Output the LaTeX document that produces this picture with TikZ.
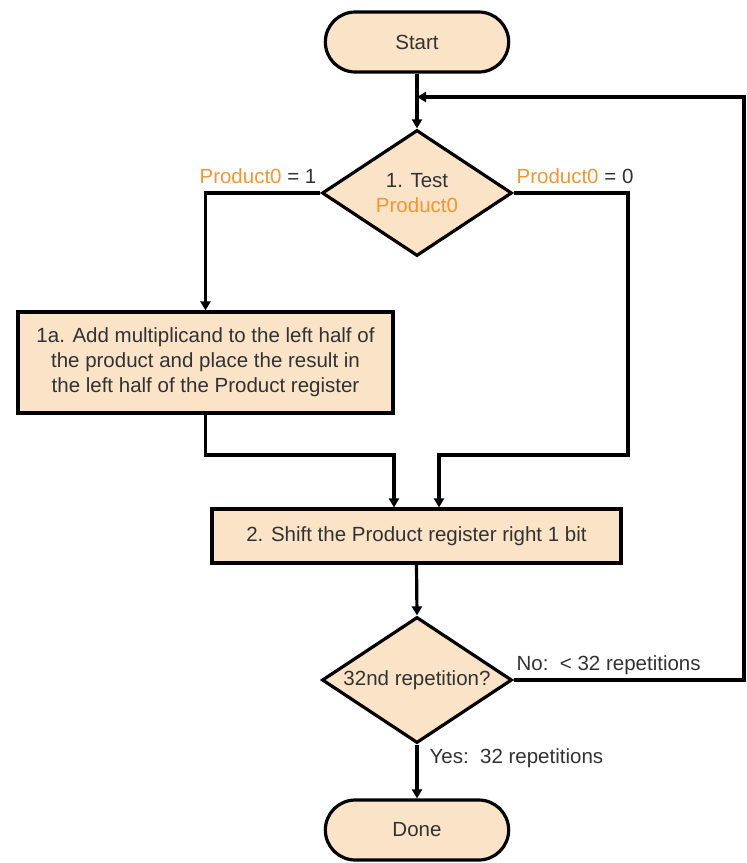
\documentclass[tikz,border=0pt]{standalone}
\usepackage{fontspec}
\setmainfont{Liberation Sans}
\usetikzlibrary{shapes.geometric,shapes.misc,arrows.meta}
\definecolor{boxfill}{RGB}{251,227,200}
\definecolor{txt}{RGB}{50,50,50}
\definecolor{org}{RGB}{240,150,50}
\newcommand{\cl}[1]{\makebox[0pt]{#1}}
\begin{document}
\begin{tikzpicture}[x=1pt,y=-1pt,
  font=\fontsize{20.5}{25}\selectfont, text=txt,
  every path/.style={line width=3.2pt, line join=miter},
  term/.style={rounded rectangle, draw, fill=boxfill, minimum width=190pt, minimum height=60pt},
  procbox/.style={rectangle, draw, fill=boxfill, align=center, inner sep=0pt},
  decision/.style={diamond, draw, fill=boxfill, align=center, inner sep=0pt, aspect=1.5, minimum width=190pt, minimum height=126pt},
  lbl/.style={inner sep=0pt},
  arr/.style={-{Triangle[length=9pt,width=10pt]}}]
\useasboundingbox (0,0) rectangle (747,863);

\node[term] (start) at (417,42) {Start};
\node[decision] (q1) at (417,193) {\cl{1. Test}\\\cl{\textcolor{org}{Product0}}};
\node[procbox, minimum width=375pt, minimum height=101pt] (add) at (205.5,362.5)
  {1a. Add multiplicand to the left half of\\the product and place the result in\\the left half of the Product register};
\node[procbox, minimum width=409pt, minimum height=54pt] (shift) at (416.5,536)
  {2. Shift the Product register right 1 bit};
\node[decision] (q2) at (417,680) {\cl{32nd repetition?}};
\node[term] (done) at (417,830) {Done};

% branch labels
\node[lbl, anchor=base east] (l1) at (318,183) {\textcolor{org}{Product0} = 1};
\node[lbl, anchor=base west] (l0) at (515,183) {\textcolor{org}{Product0} = 0};
\node[lbl, anchor=base west] (lno) at (515,670) {No:\ \ < 32 repetitions};
\node[lbl, anchor=base west] (lyes) at (428,763) {Yes:\ \ 32 repetitions};

% routing points
\coordinate (rgt) at (628,455);
\coordinate (loopR) at (744,97);

\draw[arr] (start.south) -- (q1.north);
\draw[arr] (q1.west) -| (add.north);
\draw[arr] (q1.east) -| (rgt) -| ([xshift=22.5pt]shift.north);
\draw[arr] (add.south) -- (add.south |- rgt) -| ([xshift=-22.5pt]shift.north);
\draw[arr] (shift.south) -- (q2.north);
\draw[arr] (q2.east) -| (loopR) -- (start.south |- loopR);
\draw[arr] (q2.south) -- (done.north);
\end{tikzpicture}
\end{document}
